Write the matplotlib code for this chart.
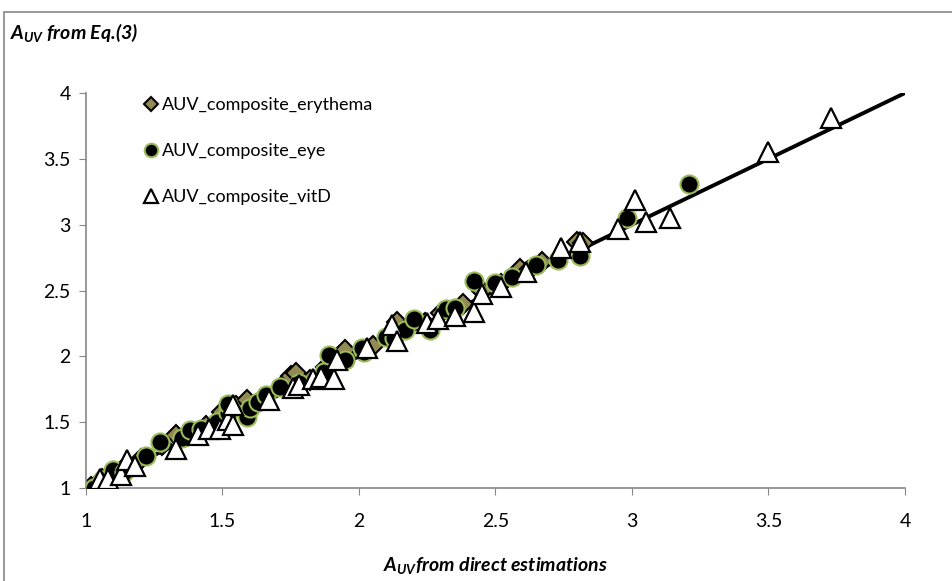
import numpy as np
import matplotlib.pyplot as plt
from matplotlib.patches import Rectangle

# AUV from direct estimations (x) vs AUV from Eq.(3) (y)
ery_x = [1.02, 1.06, 1.10, 1.14, 1.20, 1.28, 1.33, 1.38, 1.44, 1.50, 1.55, 1.59, 1.65,
         1.72, 1.75, 1.77, 1.82, 1.88, 1.95, 1.95, 2.05, 2.14, 2.18, 2.24, 2.30, 2.38,
         2.45, 2.52, 2.59, 2.62, 2.67, 2.80, 2.82]
ery_y = [1.01, 1.07, 1.12, 1.15, 1.22, 1.33, 1.40, 1.42, 1.47, 1.58, 1.62, 1.67, 1.68,
         1.78, 1.85, 1.87, 1.82, 1.92, 2.00, 2.05, 2.08, 2.26, 2.22, 2.25, 2.33, 2.40,
         2.50, 2.55, 2.66, 2.65, 2.72, 2.87, 2.86]

eye_x = [1.03, 1.06, 1.10, 1.14, 1.22, 1.27, 1.35, 1.38, 1.42, 1.48, 1.52, 1.52, 1.59,
         1.60, 1.63, 1.66, 1.71, 1.78, 1.87, 1.89, 1.95, 2.02, 2.01, 2.10, 2.13, 2.17,
         2.20, 2.26, 2.32, 2.35, 2.42, 2.50, 2.56, 2.65, 2.73, 2.81, 2.98, 3.21]
eye_y = [1.00, 1.06, 1.14, 1.12, 1.24, 1.35, 1.38, 1.44, 1.45, 1.50, 1.57, 1.64, 1.54,
         1.61, 1.65, 1.71, 1.77, 1.80, 1.88, 2.01, 1.97, 2.03, 2.06, 2.15, 2.14, 2.20,
         2.28, 2.20, 2.36, 2.37, 2.57, 2.56, 2.60, 2.69, 2.73, 2.76, 3.05, 3.31]

vitd_x = [1.05, 1.08, 1.13, 1.15, 1.18, 1.33, 1.41, 1.45, 1.49, 1.52, 1.54, 1.54, 1.67,
          1.76, 1.78, 1.83, 1.86, 1.91, 1.92, 2.03, 2.12, 2.14, 2.25, 2.29, 2.35, 2.42,
          2.45, 2.52, 2.61, 2.74, 2.81, 2.95, 3.01, 3.05, 3.14, 3.50, 3.73]
vitd_y = [1.07, 1.07, 1.10, 1.21, 1.17, 1.30, 1.40, 1.45, 1.45, 1.52, 1.48, 1.63, 1.67,
          1.76, 1.78, 1.83, 1.84, 1.83, 1.97, 2.06, 2.24, 2.12, 2.25, 2.28, 2.31, 2.34,
          2.47, 2.53, 2.64, 2.82, 2.87, 2.97, 3.19, 3.02, 3.05, 3.55, 3.81]

line_x = [1, 4]
line_y = [1, 4]

ticks = [1, 1.5, 2, 2.5, 3, 3.5, 4]
tick_labels = ['1', '1.5', '2', '2.5', '3', '3.5', '4']

plt.rcParams['font.family'] = ['Lato', 'DejaVu Sans']
plt.rcParams['mathtext.fontset'] = 'custom'
plt.rcParams['mathtext.it'] = 'Lato:italic:bold'
plt.rcParams['mathtext.rm'] = 'Lato:italic:bold'

fig = plt.figure(figsize=(9.53, 5.81), dpi=100)
ax = fig.add_axes([86/953, 93/581, (905-86)/953, (488-93)/581])

# outer chart frame
fig.patches.append(Rectangle((4/953, -0.05), 1.1, 1 - 12/581 + 0.05, transform=fig.transFigure,
                             fill=False, edgecolor='#868686', lw=1.2, clip_on=False))

ax.plot(line_x, line_y, color='black', lw=2.8, zorder=1)
ax.plot(ery_x, ery_y, 'D', ms=10, mfc='#938953', mec='black', mew=1.5,
        label='AUV_composite_erythema', zorder=2)
ax.plot(eye_x, eye_y, 'o', ms=13, mfc='black', mec='#9BBB59', mew=1.5,
        label='AUV_composite_eye', zorder=3)
ax.plot(vitd_x, vitd_y, '^', ms=14, mfc='white', mec='black', mew=1.6,
        label='AUV_composite_vitD', zorder=4)

ax.set_xlim(1, 4)
ax.set_ylim(1, 4)
ax.set_xticks(ticks)
ax.set_xticklabels(tick_labels)
ax.set_yticks(ticks)
ax.set_yticklabels(tick_labels)
for s in ['top', 'right']:
    ax.spines[s].set_visible(False)
for s in ['left', 'bottom']:
    ax.spines[s].set_color('#868686')
    ax.spines[s].set_linewidth(1.2)
ax.tick_params(direction='out', length=5, color='#868686', labelsize=14, pad=6)
ax.tick_params(axis='x', pad=13)

leg = ax.legend(loc='upper left', bbox_to_anchor=(0.05, 1.03), frameon=False,
                fontsize=13, labelspacing=1.65, handletextpad=0.15, handlelength=0.9,
                markerscale=0.75)

fig.text(10/953, 1 - 33/581, r'$A_{UV}$ from Eq.(3)', fontsize=14,
         fontweight='bold', fontstyle='italic', va='center', ha='left')
fig.text(495/953, 1 - 566/581, r'$A_{UV}$from direct estimations', fontsize=14,
         fontweight='bold', fontstyle='italic', va='center', ha='center')

fig.savefig('out.png', dpi=100)
